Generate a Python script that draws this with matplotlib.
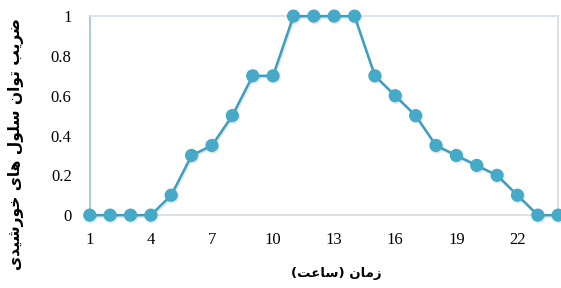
import numpy as np
import matplotlib.pyplot as plt
import matplotlib.patheffects as pe

hours = list(range(1, 25))
power = [0, 0, 0, 0, 0.1, 0.3, 0.35, 0.5, 0.7, 0.7, 1, 1, 1, 1,
         0.7, 0.6, 0.5, 0.35, 0.3, 0.25, 0.2, 0.1, 0, 0]
xticks = [1, 4, 7, 10, 13, 16, 19, 22]
yticks = [0, 0.2, 0.4, 0.6, 0.8, 1]
ylabels = ['0', '0.2', '0.4', '0.6', '0.8', '1']

xlabel_fa = 'زمان (ساعت)'
ylabel_fa = 'ضریب توان سلول های خورشیدی'

# small hand-made arabic/persian shaper (isolated, final, initial, medial)
forms = {
    'ض': (0xFEBD, 0xFEBE, 0xFEBF, 0xFEC0), 'ی': (0xFBFC, 0xFBFD, 0xFBFE, 0xFBFF),
    'ب': (0xFE8F, 0xFE90, 0xFE91, 0xFE92), 'ت': (0xFE95, 0xFE96, 0xFE97, 0xFE98),
    'ن': (0xFEE5, 0xFEE6, 0xFEE7, 0xFEE8), 'س': (0xFEB1, 0xFEB2, 0xFEB3, 0xFEB4),
    'ل': (0xFEDD, 0xFEDE, 0xFEDF, 0xFEE0), 'ه': (0xFEE9, 0xFEEA, 0xFEEB, 0xFEEC),
    'خ': (0xFEA5, 0xFEA6, 0xFEA7, 0xFEA8), 'ش': (0xFEB5, 0xFEB6, 0xFEB7, 0xFEB8),
    'م': (0xFEE1, 0xFEE2, 0xFEE3, 0xFEE4), 'ع': (0xFEC9, 0xFECA, 0xFECB, 0xFECC),
    'ر': (0xFEAD, 0xFEAE), 'و': (0xFEED, 0xFEEE), 'ا': (0xFE8D, 0xFE8E),
    'د': (0xFEA9, 0xFEAA), 'ز': (0xFEAF, 0xFEB0),
}


def shape(text):
    out = []
    for i, c in enumerate(text):
        if c not in forms:
            out.append(c)
            continue
        prev = text[i - 1] if i > 0 else ''
        nxt = text[i + 1] if i + 1 < len(text) else ''
        join_prev = prev in forms and len(forms[prev]) == 4
        join_next = nxt in forms and len(forms[c]) == 4
        f = forms[c]
        if join_prev and join_next:
            out.append(chr(f[3]))
        elif join_prev:
            out.append(chr(f[1]))
        elif join_next:
            out.append(chr(f[2]))
        else:
            out.append(chr(f[0]))
    vis = ''.join(reversed(out))
    return vis.translate(str.maketrans('()', ')('))


col = '#45A9C8'

fig = plt.figure(figsize=(5.61, 2.88), dpi=100)
ax = fig.add_axes([0.160, 0.253, 0.835, 0.691])
ax.plot(hours, power, color='#3C9EC0', lw=1.8, marker='o', ms=8.5,
        mfc=col, mec=col, clip_on=False, zorder=3,
        path_effects=[pe.SimpleLineShadow(offset=(0.8, -1.2), shadow_color='#6a7d8a', alpha=0.18),
                      pe.Normal()])
ax.set_xlim(1, 24)
ax.set_ylim(0, 1)
ax.set_xticks(xticks)
ax.set_yticks(yticks)
ax.set_yticklabels(ylabels)
ax.tick_params(length=0, labelsize=12, pad=13)
ax.tick_params(axis='x', pad=12)
for lab in ax.get_xticklabels() + ax.get_yticklabels():
    lab.set_fontfamily('Liberation Serif')
for s in ['top', 'right', 'bottom']:
    ax.spines[s].set_color('#D5DDE5')
    ax.spines[s].set_linewidth(1.2)
ax.spines['left'].set_color('#9CC3D8')
ax.spines['left'].set_linewidth(1.2)

fig.text(0.600, 0.052, shape(xlabel_fa), ha='center', va='center',
         fontsize=9.5, fontweight='bold', family='DejaVu Sans')
fig.text(0.028, 0.50, shape(ylabel_fa), ha='center', va='center', rotation=90,
         fontsize=11.2, fontweight='bold', family='DejaVu Sans')

fig.savefig('out.png', dpi=100)
